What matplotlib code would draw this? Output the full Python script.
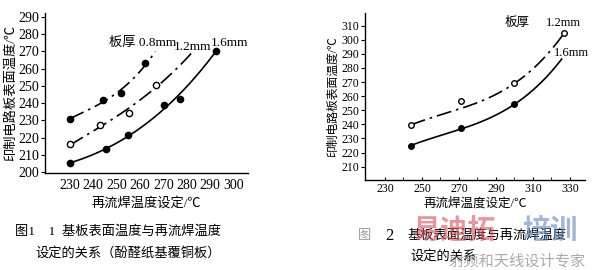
import numpy as np
import matplotlib
matplotlib.use('Agg')
import matplotlib.pyplot as plt

plt.rcParams['font.family'] = ['Liberation Serif', 'Noto Sans CJK SC']

# --- figure 1 (phenolic paper board) ---
f1_x08 = [230, 244, 252, 262]
f1_y08 = [231.0, 241.6, 246.0, 263.3]
f1_x12 = [230, 243, 255.5, 267]
f1_y12 = [216.0, 227.5, 234.5, 250.7]
f1_x16 = [230, 245.5, 255, 270.5, 277, 292.5]
f1_y16 = [205.4, 213.3, 221.2, 239.0, 242.6, 270.0]
# curve traces
f1_cx08 = [230, 244, 252, 262, 266.6]
f1_cy08 = [231.0, 240.5, 248.0, 261.5, 270.0]
f1_cx12 = [230, 243, 255, 267, 282.2]
f1_cy12 = [215.6, 226.5, 236.5, 249.5, 269.1]
f1_cx16 = [230, 245.5, 255, 270.5, 277, 292.5]
f1_cy16 = [205.4, 213.3, 221.0, 237.5, 244.5, 270.0]
f1_xticks = [230, 240, 250, 260, 270, 280, 290, 300]
f1_yticks = [200, 210, 220, 230, 240, 250, 260, 270, 280, 290]

# --- figure 2 ---
f2_x12 = [244, 271, 300, 327]
f2_y12 = [239.5, 256.5, 269.5, 305.0]
f2_x16 = [244, 271, 300]
f2_y16 = [225.0, 237.5, 254.5]
f2_cx12 = [244, 271.6, 302, 327]
f2_cy12 = [239.6, 251.5, 270.9, 305.0]
f2_cx16 = [244, 271.6, 302, 310, 325.5]
f2_cy16 = [225.0, 237.2, 254.5, 266.0, 286.0]
f2_xticks = [230, 250, 270, 290, 310, 330]
f2_xminor = [240, 260, 280, 300, 320]
f2_yticks = [210, 220, 230, 240, 250, 260, 270, 280, 290, 300, 310]

dashdot = (0, (9, 3, 1.5, 3))


def smooth(ax, cx, cy, deg, ls):
    p = np.polyfit(cx, cy, deg)
    xs = np.linspace(min(cx), max(cx), 200)
    ax.plot(xs, np.polyval(p, xs), color='black', lw=1.2, linestyle=ls)


def style(ax, size):
    for s in ('top', 'right'):
        ax.spines[s].set_visible(False)
    for s in ('left', 'bottom'):
        ax.spines[s].set_linewidth(1.0)
    ax.tick_params(labelsize=size, width=0.8, pad=1)


fig = plt.figure(figsize=(5.94, 2.70), dpi=100)

ax1 = fig.add_axes([0.0758, 0.359, 0.342, 0.593])
smooth(ax1, f1_cx08, f1_cy08, 3, dashdot)
smooth(ax1, f1_cx12, f1_cy12, 3, dashdot)
smooth(ax1, f1_cx16, f1_cy16, 3, '-')
ax1.plot(f1_x08, f1_y08, 'o', ms=4.5, color='black')
ax1.plot(f1_x12, f1_y12, 'o', ms=4.5, mfc='white', mec='black', mew=1)
ax1.plot(f1_x16, f1_y16, 'o', ms=4.5, color='black')
ax1.set_xlim(219.3, 306.4)
ax1.set_ylim(199.4, 292.3)
ax1.set_xticks(f1_xticks)
ax1.set_yticks(f1_yticks)
style(ax1, 10)
ax1.tick_params(axis='x', length=0, pad=4)
ax1.tick_params(axis='y', length=3, direction='out')
ax1.set_xlabel('再流焊温度设定/℃', fontsize=9.5, labelpad=4)
ax1.set_ylabel('印制电路板表面温度/℃', fontsize=9.5, labelpad=1)
ax1.text(261.3, 275, '板厚 0.8mm', fontsize=9.5, ha='center', va='center')
ax1.text(282.5, 272.7, '1.2mm', fontsize=9.5, ha='center', va='center')
ax1.text(298.5, 275, '1.6mm', fontsize=9.5, ha='center', va='center')

ax2 = fig.add_axes([0.6145, 0.333, 0.370, 0.619])
smooth(ax2, f2_cx12, f2_cy12, 3, dashdot)
smooth(ax2, f2_cx16, f2_cy16, 3, '-')
ax2.plot(f2_x12, f2_y12, 'o', ms=4, mfc='white', mec='black', mew=1)
ax2.plot(f2_x16, f2_y16, 'o', ms=4, color='black')
ax2.set_xlim(219.2, 338)
ax2.set_ylim(200.5, 319)
ax2.set_xticks(f2_xticks)
ax2.set_xticks(f2_xminor, minor=True)
ax2.set_yticks(f2_yticks)
style(ax2, 8.5)
ax2.tick_params(axis='x', which='both', length=2.5, direction='in', pad=2)
ax2.tick_params(axis='y', length=3, direction='out')
ax2.set_xlabel('再流焊温度设定/℃', fontsize=9, labelpad=2)
ax2.set_ylabel('印制电路板表面温度/℃', fontsize=8.5, labelpad=2)
ax2.text(301.4, 311.9, '板厚', fontsize=9, ha='center', va='center')
ax2.text(326.2, 311.9, '1.2mm', fontsize=9, ha='center', va='center')
ax2.text(331, 290.6, '1.6mm', fontsize=9, ha='center', va='center')

# captions
fig.text(15 / 594, 1 - 232 / 270, '图1    1  基板表面温度与再流焊温度', fontsize=9.5,
         ha='left', va='center')
fig.text(35 / 594, 1 - 253 / 270, '设定的关系（酚醛纸基覆铜板）', fontsize=9.5,
         ha='left', va='center')
fig.text(358 / 594, 1 - 236 / 270, '图', fontsize=9.5, color='#999999',
         ha='left', va='center')
fig.text(385 / 594, 1 - 236 / 270, '2', fontsize=12, ha='left', va='center')
fig.text(407 / 594, 1 - 236 / 270, '基板表面温度与再流焊温度', fontsize=9.5,
         ha='left', va='center')
fig.text(410 / 594, 1 - 256 / 270, '设定的关系', fontsize=9.5, ha='left', va='center')

# watermark (overlaps the caption as in the source image)
fig.text(412 / 594, 1 - 232 / 270, '易迪拓', fontsize=20, color='#d9505a', alpha=0.6,
         ha='left', va='center', fontweight='bold')
fig.text(522 / 594, 1 - 232 / 270, '培训', fontsize=20, color='#5d86c4', alpha=0.6,
         ha='left', va='center', fontweight='bold')
fig.text(586 / 594, 1 - 261 / 270, '射频和天线设计专家', fontsize=11, color='#888888',
         alpha=0.7, ha='right', va='center')

fig.savefig('out.png', dpi=100)
